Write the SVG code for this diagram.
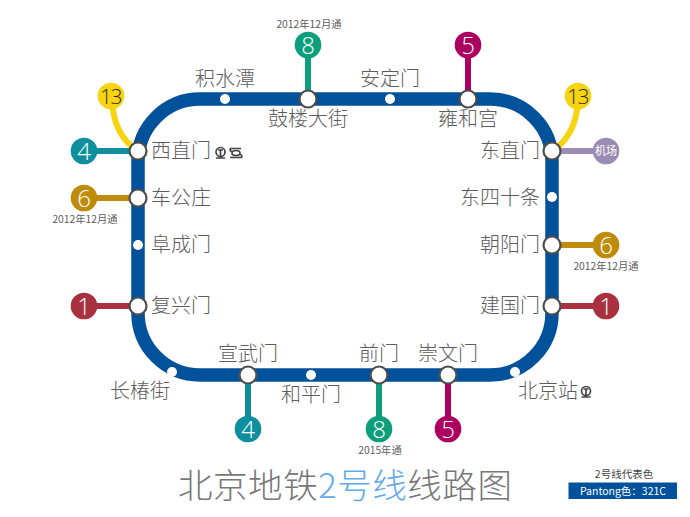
<svg xmlns="http://www.w3.org/2000/svg" width="690" height="517" viewBox="0 0 690 517">
<style>
text{font-family:"Noto Sans CJK SC","Noto Sans",sans-serif}
.l{font-size:20px;font-weight:300;fill:#5c5c5c}
.e{text-anchor:end}.m{text-anchor:middle}
.d{font-size:10.3px;fill:#5c5c5c;text-anchor:middle}
.n{font-family:"Open Sans","Noto Sans",sans-serif;font-size:24px;font-weight:300;fill:#fff;text-anchor:middle}
.t{font-size:21px;fill:#2b2b2b;letter-spacing:-1.5px}
.b{fill:#fff;stroke:#4d4d4d;stroke-width:2.2}
.s{fill:#fff}
.c{fill:none;stroke-width:6}
.ic{fill:none;stroke:#444;stroke-width:1.7}
</style>
<rect width="690" height="517" fill="#fff"/>
<g id="connectors">
<rect x="138" y="99" width="414" height="276" rx="62" ry="62" fill="none" stroke="#02529b" stroke-width="13.5"/>
<path class="c" stroke="#f6d40f" d="M112 100C113 122 120 136 133 148"/>
<path class="c" stroke="#f6d40f" d="M578 100C577 122 570 136 557 148"/>
<path class="c" stroke="#0f8f9e" d="M84 151H138"/>
<path class="c" stroke="#bf8b0b" d="M84 198H138"/>
<path class="c" stroke="#a9303f" d="M84 306H138"/>
<path class="c" stroke="#9c8bb5" d="M552 151H606"/>
<path class="c" stroke="#bf8b0b" d="M552 245H606"/>
<path class="c" stroke="#a9303f" d="M552 306H606"/>
<path class="c" stroke="#0d9f7c" d="M308 45V99"/>
<path class="c" stroke="#ab0060" d="M468 45V99"/>
<path class="c" stroke="#0f8f9e" d="M248 375V429"/>
<path class="c" stroke="#0d9f7c" d="M379 375V429"/>
<path class="c" stroke="#ab0060" d="M448 375V429"/>
</g>
<g id="line13-left"><circle cx="111" cy="96" r="13.3" fill="#f6d40f"/><text class="n t" x="110.500" y="104">13</text></g>
<g id="line13-right"><circle cx="578" cy="96" r="13.3" fill="#f6d40f"/><text class="n t" x="577.500" y="104">13</text></g>
<g id="line4-left"><circle cx="84" cy="151" r="13.3" fill="#0f8f9e"/><text class="n" x="84" y="160">4</text></g>
<g id="line6-left"><circle cx="84" cy="198" r="13.3" fill="#bf8b0b"/><text class="n" x="84" y="207">6</text><text class="d" x="85" y="223">2012年12月通</text></g>
<g id="line1-left"><circle cx="84" cy="306" r="13.3" fill="#a9303f"/><text class="n" x="84" y="315">1</text></g>
<g id="airport"><circle cx="606" cy="151" r="13.3" fill="#9c8bb5"/><text x="606" y="155" class="m" style="font-size:11px;fill:#fff">机场</text></g>
<g id="line6-right"><circle cx="606" cy="245" r="13.3" fill="#bf8b0b"/><text class="n" x="606" y="254">6</text><text class="d" x="606" y="270">2012年12月通</text></g>
<g id="line1-right"><circle cx="606" cy="306" r="13.3" fill="#a9303f"/><text class="n" x="606" y="315">1</text></g>
<g id="line8-top"><circle cx="308" cy="45" r="13.3" fill="#0d9f7c"/><text class="n" x="308" y="54">8</text><text class="d" x="309" y="28">2012年12月通</text></g>
<g id="line5-top"><circle cx="468" cy="45" r="13.3" fill="#ab0060"/><text class="n" x="468" y="54">5</text></g>
<g id="line4-bottom"><circle cx="248" cy="429" r="13.3" fill="#0f8f9e"/><text class="n" x="248" y="438">4</text></g>
<g id="line8-bottom"><circle cx="379" cy="429" r="13.3" fill="#0d9f7c"/><text class="n" x="379" y="438">8</text><text class="d" x="380" y="454">2015年通</text></g>
<g id="line5-bottom"><circle cx="448" cy="429" r="13.3" fill="#ab0060"/><text class="n" x="448" y="438">5</text></g>

<g id="st-jishuitan"><circle class="s" cx="225" cy="99" r="5"/><text class="l m" x="225" y="86">积水潭</text></g>
<g id="st-gulou"><circle class="b" cx="308" cy="99" r="8.5"/><text class="l m" x="308" y="126">鼓楼大街</text></g>
<g id="st-andingmen"><circle class="s" cx="390" cy="99" r="5"/><text class="l m" x="390" y="86">安定门</text></g>
<g id="st-yonghegong"><circle class="b" cx="468" cy="99" r="8.5"/><text class="l m" x="468" y="126">雍和宫</text></g>
<g id="st-xizhimen"><circle class="b" cx="138" cy="151" r="8.5"/><text class="l" x="151" y="158">西直门</text>
<circle class="ic" cx="220.500" cy="152" r="4.5"/><path class="ic" d="M220.500 150v7.500M216 158h9M218 150h5"/>
<ellipse class="ic" cx="236" cy="153" rx="4" ry="2.5"/><path class="ic" d="M230 148.500h11M230 157.500h12M230 148.500c0 2 1 3 2 3M242 157.500c0-2-1-3-2-3"/></g>
<g id="st-chegongzhuang"><circle class="b" cx="138" cy="198" r="8.5"/><text class="l" x="151" y="205">车公庄</text></g>
<g id="st-fuchengmen"><circle class="s" cx="138" cy="245" r="5"/><text class="l" x="151" y="252">阜成门</text></g>
<g id="st-fuxingmen"><circle class="b" cx="138" cy="306" r="8.5"/><text class="l" x="151" y="313">复兴门</text></g>
<g id="st-changchunjie"><circle class="s" cx="172" cy="372" r="5"/><text class="l" x="110" y="398">长椿街</text></g>
<g id="st-xuanwumen"><circle class="b" cx="248" cy="375" r="8.5"/><text class="l m" x="248" y="361">宣武门</text></g>
<g id="st-hepingmen"><circle class="s" cx="311" cy="375" r="5"/><text class="l m" x="311" y="402">和平门</text></g>
<g id="st-qianmen"><circle class="b" cx="379" cy="375" r="8.5"/><text class="l m" x="379" y="361">前门</text></g>
<g id="st-chongwenmen"><circle class="b" cx="448" cy="375" r="8.5"/><text class="l m" x="448" y="361">崇文门</text></g>
<g id="st-beijingzhan"><circle class="s" cx="515" cy="372" r="5"/><text class="l" x="518" y="398">北京站</text>
<circle class="ic" cx="586" cy="391" r="4.5"/><path class="ic" d="M586 389v7.500M581.500 397h9M583.500 389h5"/></g>
<g id="st-dongzhimen"><circle class="b" cx="552" cy="151" r="8.5"/><text class="l e" x="540" y="158">东直门</text></g>
<g id="st-dongsishitiao"><circle class="s" cx="552" cy="197" r="5"/><text class="l e" x="540" y="205">东四十条</text></g>
<g id="st-chaoyangmen"><circle class="b" cx="552" cy="245" r="8.5"/><text class="l e" x="540" y="252">朝阳门</text></g>
<g id="st-jianguomen"><circle class="b" cx="552" cy="306" r="8.5"/><text class="l e" x="540" y="313">建国门</text></g>

<g id="title"><text x="178" y="498" style="font-size:34.500px;font-weight:300;fill:#777;letter-spacing:.55px">北京地铁<tspan fill="#62aaea">2号线</tspan>线路图</text></g>
<g id="legend"><text x="624" y="478" class="m" style="font-size:10.500px;fill:#444">2号线代表色</text>
<rect x="568.500" y="482.500" width="108.500" height="16.500" fill="#02529b"/>
<text x="623" y="495" class="m" style="font-size:10.500px;fill:#fff">Pantong色：321C</text></g>
</svg>
